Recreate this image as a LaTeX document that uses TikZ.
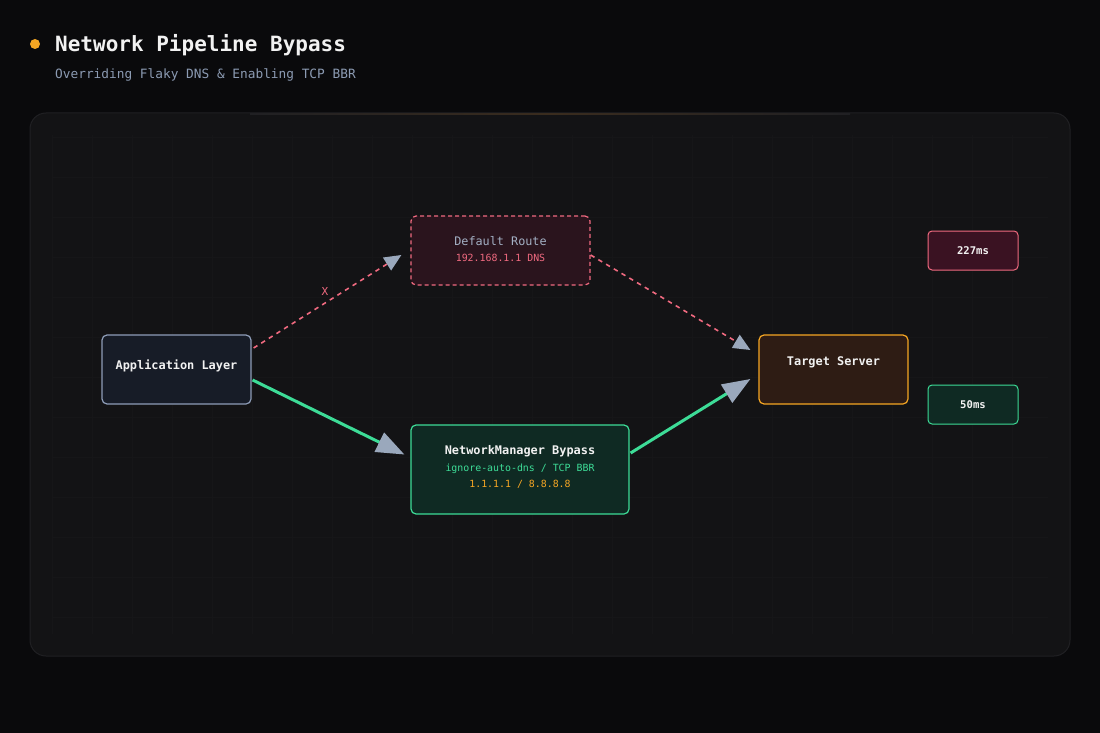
\documentclass[tikz,border=0pt]{standalone}
\usepackage{fontspec}
\setmonofont{DejaVu Sans Mono}
\usetikzlibrary{arrows.meta,calc,positioning}
\definecolor{bgc}{HTML}{0A0A0C}
\definecolor{panelc}{HTML}{131315}
\definecolor{panelb}{HTML}{202023}
\definecolor{gridc}{HTML}{161618}
\definecolor{orangec}{HTML}{F5A623}
\definecolor{subc}{HTML}{8C9BB3}
\definecolor{greyb}{HTML}{8E9DB8}
\definecolor{appfill}{HTML}{171C27}
\definecolor{pinkc}{HTML}{F06A80}
\definecolor{drfill}{HTML}{2A141D}
\definecolor{drtext}{HTML}{A3B0C4}
\definecolor{greenc}{HTML}{3DDC97}
\definecolor{nmfill}{HTML}{0F2A23}
\definecolor{tsfill}{HTML}{2E1C14}
\definecolor{redfill}{HTML}{3A1222}
\definecolor{headc}{HTML}{9AA8BC}
\definecolor{whitec}{HTML}{F2F2F2}
\tikzset{
  box/.style={rectangle, rounded corners=5pt, line width=1.2pt, inner sep=0pt, align=center, font=\ttfamily},
  pinkdash/.style={draw=pinkc, line width=1.6pt, dash pattern=on 4.5pt off 4.5pt},
  greenline/.style={draw=greenc, line width=3pt},
  smallhead/.style={-{Triangle[length=17pt,width=15pt,fill=headc,color=headc]}},
  bighead/.style={-{Triangle[length=28pt,width=21pt,fill=headc,color=headc]}},
  boxtext/.style={anchor=base, inner sep=0pt, text=whitec, font=\ttfamily\bfseries\fontsize{11.9}{14}\selectfont},
}
\begin{document}
\begin{tikzpicture}[x=1pt,y=-1pt]
\useasboundingbox (0,0) rectangle (1100,733);
\fill[bgc] (0,0) rectangle (1100,733);
% title
\fill[orangec] (35,44) circle (5);
\node[anchor=base west, inner sep=0pt, text=whitec, font=\ttfamily\bfseries\fontsize{21}{25}\selectfont] (title) at (55,52) {Network Pipeline Bypass};
\node[anchor=base west, inner sep=0pt, text=subc, font=\ttfamily\fontsize{12.8}{15}\selectfont] (sub) at (55,79) {Overriding Flaky DNS \& Enabling TCP BBR};
% panel
\fill[panelc, draw=panelb, line width=1pt, rounded corners=16pt] (30,113) rectangle (1070,656);
\shade[left color=panelb, right color=panelb, middle color={rgb,255:red,58;green,44;blue,30}] (250,113.2) rectangle (850,114.2);
\foreach \x in {52,92,...,1048} \draw[gridc, line width=0.6pt] (\x,135) -- (\x,634);
\foreach \y in {137,177,...,634} \draw[gridc, line width=0.6pt] (52,\y) -- (1048,\y);
% nodes
\node[box, draw=greyb, fill=appfill, minimum width=149pt, minimum height=69pt] (app) at (176.5,369.5) {};
\node[boxtext] (appt) at (176.5,369.5) {Application Layer};
\node[box, draw=pinkc, fill=drfill, dash pattern=on 4pt off 3pt, minimum width=179pt, minimum height=69pt] (dr) at (500.5,250.5) {};
\node[anchor=base, text=drtext, font=\ttfamily\fontsize{11.8}{14}\selectfont, inner sep=0pt] (drt1) at (500.5,245.5) {Default Route};
\node[anchor=base, text=pinkc, font=\ttfamily\fontsize{9.9}{12}\selectfont, inner sep=0pt] (drt2) at (500.5,261.5) {192.168.1.1 DNS};
\node[box, draw=greenc, fill=nmfill, minimum width=218pt, minimum height=89pt] (nm) at (520,469.5) {};
\node[boxtext] (nmt1) at (520,454.5) {NetworkManager Bypass};
\node[anchor=base, text=greenc, font=\ttfamily\fontsize{9.9}{12}\selectfont, inner sep=0pt] (nmt2) at (520,471) {ignore-auto-dns / TCP BBR};
\node[anchor=base, text=orangec, font=\ttfamily\fontsize{9.9}{12}\selectfont, inner sep=0pt] (nmt3) at (520,487) {1.1.1.1 / 8.8.8.8};
\node[box, draw=orangec, fill=tsfill, minimum width=149pt, minimum height=69pt] (ts) at (833.5,369.5) {};
\node[boxtext] (tst) at (833.5,365) {Target Server};
\node[box, draw=pinkc, fill=redfill, rounded corners=4pt, line width=1pt, minimum width=90pt, minimum height=39pt, text=whitec, font=\ttfamily\bfseries\fontsize{10.6}{13}\selectfont] (slow) at (973,250.5) {227ms};
\node[box, draw=greenc, fill=nmfill, rounded corners=4pt, line width=1pt, minimum width=90pt, minimum height=39pt, text=whitec, font=\ttfamily\bfseries\fontsize{10.6}{13}\selectfont] (fast) at (973,404.5) {50ms};
% connectors
\draw[pinkdash, smallhead] ($(app.east)+(2,-21.5)$) -- ($(dr.west)+(-9,4.5)$);
\node[text=pinkc, font=\ttfamily\fontsize{11}{13}\selectfont, inner sep=0pt] (xlab) at (325,291) {X};
\draw[pinkdash, smallhead] ($(dr.east)+(0,4.5)$) -- ($(ts.west)+(-8,-19.5)$);
\draw[greenline, bighead] ($(app.east)+(1,10.5)$) -- ($(nm.west)+(-6,-15)$);
\draw[greenline, bighead] ($(nm.east)+(1,-16.5)$) -- ($(ts.west)+(-8,9.5)$);
\end{tikzpicture}
\end{document}
